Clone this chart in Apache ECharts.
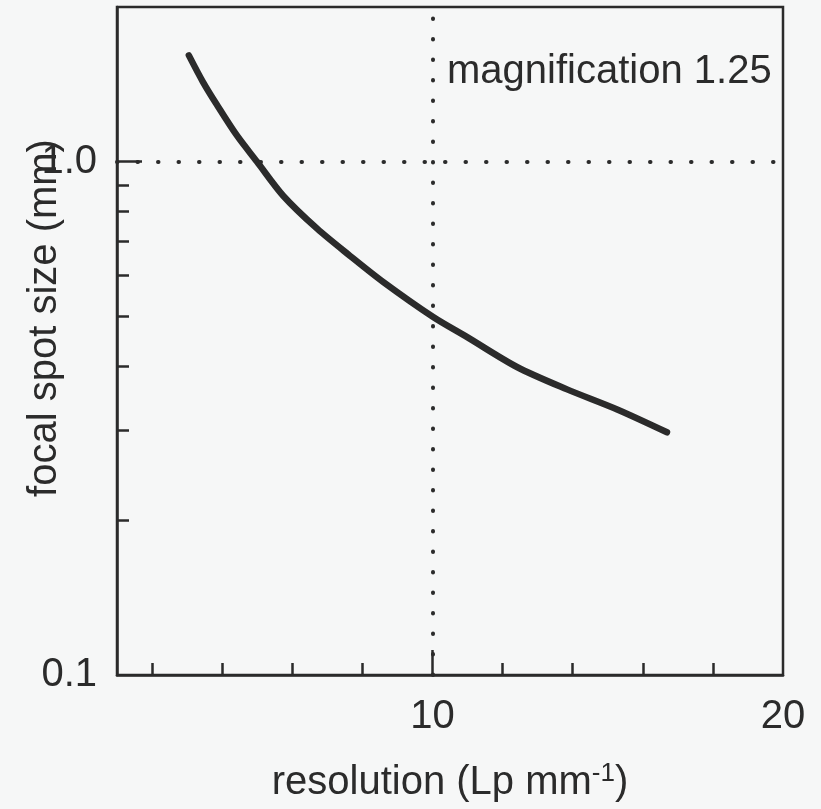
<!DOCTYPE html>
<html>
<head>
<meta charset="utf-8">
<script src="https://cdn.jsdelivr.net/npm/echarts@6/dist/echarts.min.js"></script>
<style>
  html, body { margin: 0; padding: 0; background: #f6f7f7; }
  #chart { width: 821px; height: 809px; }
</style>
</head>
<body>
<div id="chart"></div>
<script>
// resolution (Lp/mm) vs focal spot size (mm), magnification 1.25
var resolution = [3.05, 3.45, 3.85, 4.42, 4.99, 5.74, 6.71, 7.65, 8.59, 10.02, 10.99, 12.41, 13.84, 15.27, 16.69]
var spotSize = [1.61, 1.43, 1.29, 1.124, 1.0, 0.858, 0.740, 0.655, 0.583, 0.498, 0.455, 0.398, 0.360, 0.329, 0.297]

var xMinorTicks = [2, 4, 6, 8, 12, 14, 16, 18]
var xMajorTicks = [10]
var xLabels = [10, 20]
var yMinorTicks = [0.2, 0.3, 0.4, 0.5, 0.6, 0.7, 0.8, 0.9]
var yMajorTicks = [1]
var yLabels = [0.1, 1]

var ink = '#2b2b2b'
var font = 'Liberation Sans, Arial, sans-serif'

var chart = echarts.init(document.getElementById('chart'))

var points = []
for (var i = 0; i < resolution.length; i++) {
    points.push([resolution[i], spotSize[i]])
}

chart.setOption({
    backgroundColor: '#f6f7f7',
    animation: false,
    grid: {
        left: 117,
        right: 38,
        top: 7,
        bottom: 134,
        containLabel: false,
        outerBoundsMode: 'none',
        show: true,
        borderColor: ink,
        borderWidth: 2.5
    },
    graphic: [{
        type: 'text',
        left: 447,
        top: 52,
        style: {
            text: 'magnification 1.25',
            fontSize: 40,
            fontFamily: font,
            fill: ink
        }
    }],
    xAxis: [
        {
            type: 'value',
            min: 1,
            max: 20,
            position: 'bottom',
            name: '{a|resolution (Lp mm}{s|-1}{a|)}',
            nameLocation: 'middle',
            nameGap: 86,
            nameMoveOverlap: false,
            nameTextStyle: {
                rich: {
                    a: { fontSize: 40, fontFamily: font, color: ink },
                    s: { fontSize: 26, fontFamily: font, color: ink, verticalAlign: 'top', padding: [0, 0, 18, 0] }
                }
            },
            axisLine: { lineStyle: { color: ink, width: 2.5 } },
            axisTick: { inside: true, length: 12, customValues: xMinorTicks, lineStyle: { color: ink, width: 2.5 } },
            axisLabel: { customValues: xLabels, margin: 22, fontSize: 40, fontFamily: font, color: ink },
            splitLine: { show: false }
        },
        {
            type: 'value',
            min: 1,
            max: 20,
            position: 'bottom',
            axisLine: { show: false },
            axisTick: { inside: true, length: 25, customValues: xMajorTicks, lineStyle: { color: ink, width: 2.5 } },
            axisLabel: { show: false },
            splitLine: { show: false }
        }
    ],
    yAxis: [
        {
            type: 'log',
            logBase: 10,
            min: 0.1,
            max: 2,
            position: 'left',
            name: 'focal spot size (mm)',
            nameLocation: 'middle',
            nameGap: 52,
            nameMoveOverlap: false,
            nameTextStyle: { fontSize: 40, fontFamily: font, color: ink, padding: [0, 0, 0, 46] },
            axisLine: { lineStyle: { color: ink, width: 2.5 } },
            axisTick: { inside: true, length: 12, customValues: yMinorTicks, lineStyle: { color: ink, width: 2.5 } },
            axisLabel: {
                customValues: yLabels,
                margin: 20,
                fontSize: 40,
                fontFamily: font,
                color: ink,
                formatter: function (v) { return Number(v).toFixed(1) }
            },
            splitLine: { show: false }
        },
        {
            type: 'log',
            logBase: 10,
            min: 0.1,
            max: 2,
            position: 'left',
            axisLine: { show: false },
            axisTick: { inside: true, length: 25, customValues: yMajorTicks, lineStyle: { color: ink, width: 2.5 } },
            axisLabel: { show: false },
            splitLine: { show: false }
        }
    ],
    series: [
        {
            type: 'line',
            data: points,
            smooth: 0.3,
            symbol: 'none',
            lineStyle: { color: ink, width: 6.5, cap: 'round' },
            markLine: {
                silent: true,
                symbol: 'none',
                label: { show: false },
                lineStyle: { color: ink, width: 4, type: [0.5, 20], cap: 'round' },
                data: [
                    { xAxis: xMajorTicks[0] },
                    { yAxis: yMajorTicks[0] }
                ]
            }
        }
    ]
})
</script>
</body>
</html>
